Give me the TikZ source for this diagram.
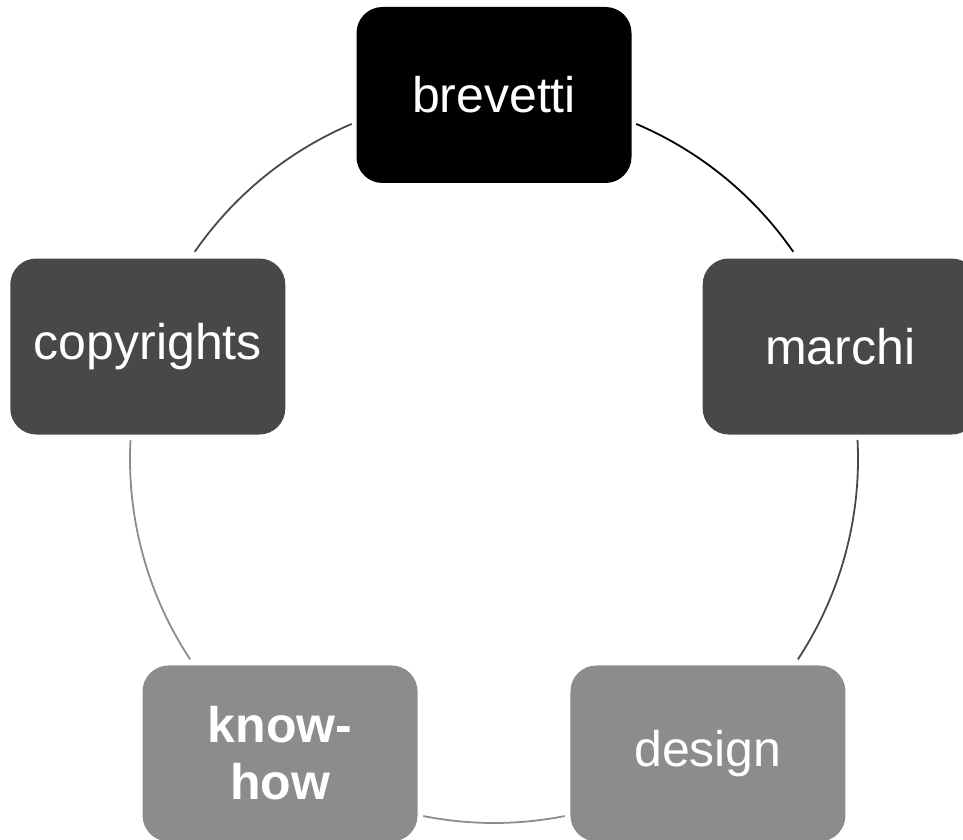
\documentclass[tikz,border=0pt]{standalone}
\usepackage{fontspec}
\setmainfont{Liberation Sans}
\usepackage{tikz}
\usetikzlibrary{shapes,calc}

\definecolor{darkbox}{HTML}{484848}
\definecolor{lightbox}{HTML}{8C8C8C}

\begin{document}
\begin{tikzpicture}[x=1pt,y=1pt]
\tikzset{cycbox/.style={rectangle, rounded corners=26pt, minimum width=275pt, minimum height=176pt,
  inner sep=0pt, text=white, text width=260pt, align=center, font=\fontsize{50}{57}\selectfont}}
\tikzset{cycarc/.style={line width=1.8pt}}
\useasboundingbox (0,0) rectangle (963,839);
\coordinate (hub) at (494,380);
% boxes round the cycle
\node[cycbox, fill=black]    (brevetti)   at ($(hub)+(90:364)$)  {brevetti};
\node[cycbox, fill=darkbox]  (marchi)     at ($(hub)+(18:364)$)  {marchi};
\node[cycbox, fill=lightbox] (design)     at ($(hub)+(-54:364)$) {design};
\node[cycbox, fill=lightbox, font=\fontsize{50}{57}\selectfont\bfseries] (knowhow) at ($(hub)+(234:364)$) {know-\\how};
\node[cycbox, fill=darkbox]  (copyrights) at ($(hub)+(162:364)$) {copyrights};
% arcs between the boxes
\draw[cycarc, black]    ($(hub)+(67:364)$)    arc[start angle=67,    end angle=34.7,   radius=364];
\draw[cycarc, darkbox]  ($(hub)+(3:364)$)     arc[start angle=3,     end angle=-33.4,  radius=364];
\draw[cycarc, lightbox] ($(hub)+(-78.8:364)$) arc[start angle=-78.8, end angle=-101.2, radius=364];
\draw[cycarc, lightbox] ($(hub)+(213.4:364)$) arc[start angle=213.4, end angle=177,    radius=364];
\draw[cycarc, darkbox]  ($(hub)+(145.3:364)$) arc[start angle=145.3, end angle=113,    radius=364];
\end{tikzpicture}
\end{document}
